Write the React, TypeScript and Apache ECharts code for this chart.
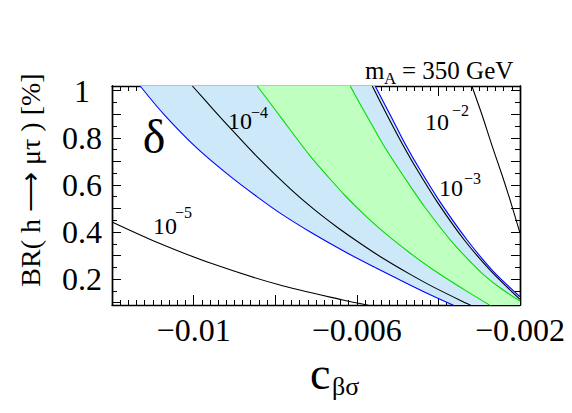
import React, { useEffect, useRef } from "react";
import * as echarts from "echarts";

// ---- data ----
const xTickLabels = [-0.01, -0.006, -0.002];
const yTickLabels = [0.2, 0.4, 0.6, 0.8, 1];
const yMajorTicks = [0.1, 0.2, 0.3, 0.4, 0.5, 0.6, 0.7, 0.8, 0.9, 1.0];
const yMinorTicks = [0.1, 0.15, 0.2, 0.25, 0.3, 0.35, 0.4, 0.45, 0.5, 0.55, 0.6, 0.65, 0.7, 0.75, 0.8, 0.85, 0.9, 0.95, 1.0];

// blue band boundaries
const blueLower = [[-0.01131, 1.02], [-0.01074, 0.902], [-0.00991, 0.755], [-0.0091, 0.636], [-0.00844, 0.549], [-0.00788, 0.48], [-0.00714, 0.4], [-0.00629, 0.316], [-0.00555, 0.249], [-0.00494, 0.196], [-0.00428, 0.14], [-0.00362, 0.088]];
const blueUpper = [[-0.00555, 1.02], [-0.00518, 0.897], [-0.00482, 0.776], [-0.00445, 0.664], [-0.00396, 0.528], [-0.0033, 0.367], [-0.00266, 0.234], [-0.002, 0.125]];
// green band boundaries
const greenLower = [[-0.00844, 1.02], [-0.008, 0.919], [-0.00763, 0.833], [-0.00714, 0.722], [-0.00665, 0.624], [-0.00629, 0.555], [-0.00585, 0.479], [-0.00531, 0.395], [-0.00469, 0.31], [-0.00413, 0.24], [-0.0033, 0.148], [-0.00269, 0.084]];
const greenUpper = [[-0.00616, 1.02], [-0.00592, 0.944], [-0.00562, 0.852], [-0.00531, 0.759], [-0.00501, 0.678], [-0.00469, 0.595], [-0.00433, 0.505], [-0.00371, 0.367], [-0.00298, 0.233], [-0.00249, 0.163], [-0.002, 0.107]];
// black contours
const contour1e5 = [[-0.012, 0.442], [-0.01099, 0.363], [-0.00959, 0.268], [-0.00795, 0.178], [-0.00634, 0.111], [-0.00572, 0.089]];
const contour1e4 = [[-0.01003, 1.02], [-0.00952, 0.921], [-0.0091, 0.841], [-0.00844, 0.719], [-0.00763, 0.583], [-0.00707, 0.499], [-0.00648, 0.42], [-0.00592, 0.352], [-0.00543, 0.296], [-0.00469, 0.22], [-0.00413, 0.167], [-0.0033, 0.096], [-0.0031, 0.08]];
const contour1e3 = [[-0.00562, 1.02], [-0.00526, 0.897], [-0.00489, 0.776], [-0.00452, 0.664], [-0.00403, 0.528], [-0.00337, 0.367], [-0.00271, 0.234], [-0.002, 0.114]];
const contour1e2 = [[-0.00318, 1.02], [-0.00293, 0.897], [-0.00269, 0.769], [-0.00244, 0.642], [-0.00222, 0.523], [-0.002, 0.395]];

const X_MIN = -0.012;
const X_MAX = -0.002;
const Y_MIN = 0.09;
const Y_MAX = 1.02;

const FONT = '"Liberation Serif", "Times New Roman", Times, serif';

function bandPolygon(lower: number[][], upper: number[][]) {
  return [...lower, [X_MAX, Y_MIN - 0.01], ...upper.slice().reverse()];
}

function bandSeries(lower: number[][], upper: number[][], fill: string, z: number) {
  const poly = bandPolygon(lower, upper);
  return {
    type: "custom",
    coordinateSystem: "cartesian2d",
    xAxisIndex: 0,
    yAxisIndex: 0,
    clip: true,
    silent: true,
    z,
    data: [[-0.007, 0.5]],
    renderItem: (_params: any, api: any) => ({
      type: "polygon",
      shape: { points: poly.map((p) => api.coord(p)) },
      style: { fill, stroke: "none" },
    }),
  };
}

function lineSeries(data: number[][], color: string, z: number) {
  return {
    type: "line",
    xAxisIndex: 0,
    yAxisIndex: 0,
    data,
    showSymbol: false,
    symbol: "none",
    smooth: 0.3,
    clip: true,
    silent: true,
    z,
    lineStyle: { color, width: 1.1 },
  };
}

function txt(text: string, x: number, y: number, size: number, align = "left", extra: any = {}) {
  return {
    type: "text",
    x,
    y,
    silent: true,
    z: 100,
    ...extra,
    style: {
      text,
      fontSize: size,
      fontFamily: FONT,
      fill: "#000",
      align,
      textAlign: align,
      verticalAlign: "middle",
      textVerticalAlign: "middle",
    },
  };
}

const fmtX = (v: number) => {
  const r = Math.round(v * 1e6) / 1e6;
  const hit = xTickLabels.some((t) => Math.abs(t - r) < 1e-9);
  if (!hit) return "";
  return "\u2212" + String(Math.abs(r));
};
const fmtY = (v: number) => String(Math.round(v * 10) / 10);

const axisLineStyle = { show: true, lineStyle: { color: "#000", width: 1.4 } };

function xAxis(position: string, showLabel: boolean) {
  return {
    type: "value",
    position,
    min: X_MIN,
    max: X_MAX,
    interval: 0.002,
    axisLine: axisLineStyle,
    axisTick: { show: true, inside: true, length: 10, lineStyle: { color: "#000", width: 1 } },
    minorTick: { show: true, splitNumber: 10, length: 5, lineStyle: { color: "#000", width: 1 } },
    splitLine: { show: false },
    minorSplitLine: { show: false },
    axisLabel: {
      show: showLabel,
      formatter: fmtX,
      fontSize: 32,
      fontFamily: FONT,
      color: "#000",
      margin: 9,
      showMinLabel: true,
      showMaxLabel: true,
      hideOverlap: false,
    },
  };
}

function yAxis(position: string, ticks: number[], len: number, showLabel: boolean) {
  return {
    type: "value",
    position,
    min: Y_MIN,
    max: Y_MAX,
    axisLine: axisLineStyle,
    axisTick: { show: true, inside: true, length: len, customValues: ticks, lineStyle: { color: "#000", width: 1 } },
    splitLine: { show: false },
    axisLabel: {
      show: showLabel,
      customValues: yTickLabels,
      formatter: fmtY,
      fontSize: 32,
      fontFamily: FONT,
      color: "#000",
      align: "center",
      margin: 30,
    },
  };
}

export default function App() {
  const ref = useRef<HTMLDivElement>(null);
  useEffect(() => {
    if (!ref.current) return;
    const chart = echarts.init(ref.current, undefined, { renderer: "svg" });
    chart.setOption({
      animation: false,
      backgroundColor: "#fff",
      grid: { left: 112, right: 52, top: 86, bottom: 108, containLabel: false },
      xAxis: [xAxis("bottom", true), xAxis("top", false)],
      yAxis: [
        yAxis("left", yMajorTicks, 9, true),
        yAxis("left", yMinorTicks, 5, false),
        yAxis("right", yMajorTicks, 9, false),
        yAxis("right", yMinorTicks, 5, false),
      ],
      series: [
        bandSeries(blueLower, blueUpper, "#cde8f9", 1),
        bandSeries(greenLower, greenUpper, "#bfffbf", 2),
        lineSeries(blueLower, "#0000ff", 5),
        lineSeries(blueUpper, "#0000ff", 5),
        lineSeries(greenLower, "#00dd00", 5),
        lineSeries(greenUpper, "#00dd00", 5),
        lineSeries(contour1e5, "#000000", 6),
        lineSeries(contour1e4, "#000000", 6),
        lineSeries(contour1e3, "#000000", 6),
        lineSeries(contour1e2, "#000000", 6),
      ],
      graphic: [
        txt("m", 365, 70, 25),
        txt("A", 384, 78, 17),
        txt("= 350 GeV", 402, 70, 25),
        txt("\u03b4", 154, 136, 48, "center"),
        txt("10", 228, 121, 24),
        txt("\u22124", 251, 112, 16),
        txt("10", 153, 226, 24),
        txt("\u22125", 175, 212, 16),
        txt("10", 425, 122, 24),
        txt("\u22122", 452, 110, 16),
        txt("10", 439, 188, 24),
        txt("\u22123", 464, 178, 16),
        txt("BR( h \u27f6 \u03bc\u03c4 ) [%]", 30, 180, 28, "center", { rotation: Math.PI / 2 }),
        txt("c", 310, 373, 46),
        txt("\u03b2\u03c3", 332, 386, 26),
      ],
    });
    return () => chart.dispose();
  }, []);
  return (
    <div
      ref={ref}
      style={{ position: "fixed", left: 0, top: 0, width: 572, height: 413, background: "#fff" }}
    />
  );
}
